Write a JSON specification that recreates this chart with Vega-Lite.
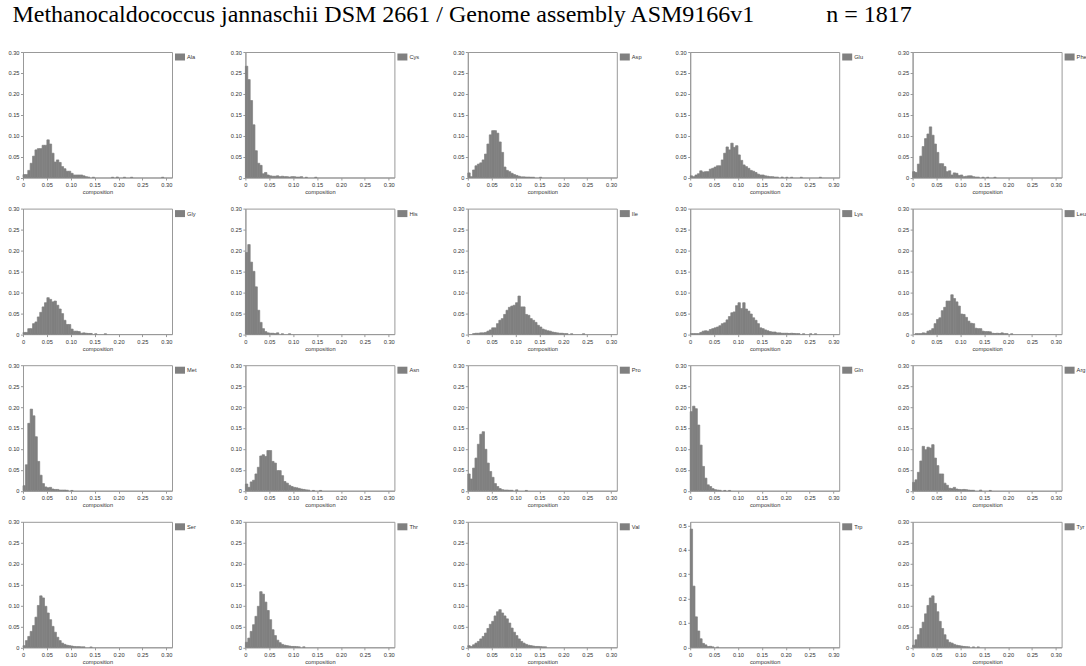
{
"$schema":"https://vega.github.io/schema/vega-lite/v6.json",
"background":"white",
"padding":{"left":7,"top":2,"right":2,"bottom":2},
"title":{"text":"Methanocaldococcus jannaschii DSM 2661 / Genome assembly ASM9166v1\u00a0\u00a0\u00a0\u00a0\u00a0\u00a0\u00a0\u00a0\u00a0\u00a0\u00a0\u00a0n = 1817","anchor":"start","font":"Liberation Serif","fontSize":24,"fontWeight":"normal","color":"#000","offset":22,"dx":5},
"data":{"values":[
{"a":"Ala","b":0,"e":0.005,"p":0.007},{"a":"Ala","b":0.005,"e":0.01,"p":0.007},{"a":"Ala","b":0.01,"e":0.015,"p":0.017},{"a":"Ala","b":0.015,"e":0.02,"p":0.034},{"a":"Ala","b":0.02,"e":0.025,"p":0.051},{"a":"Ala","b":0.025,"e":0.03,"p":0.066},{"a":"Ala","b":0.03,"e":0.035,"p":0.069},{"a":"Ala","b":0.035,"e":0.04,"p":0.069},{"a":"Ala","b":0.04,"e":0.045,"p":0.077},{"a":"Ala","b":0.045,"e":0.05,"p":0.077},{"a":"Ala","b":0.05,"e":0.055,"p":0.09},{"a":"Ala","b":0.055,"e":0.06,"p":0.08},{"a":"Ala","b":0.06,"e":0.065,"p":0.058},{"a":"Ala","b":0.065,"e":0.07,"p":0.037},{"a":"Ala","b":0.07,"e":0.075,"p":0.042},{"a":"Ala","b":0.075,"e":0.08,"p":0.036},{"a":"Ala","b":0.08,"e":0.085,"p":0.026},{"a":"Ala","b":0.085,"e":0.09,"p":0.021},{"a":"Ala","b":0.09,"e":0.095,"p":0.015},{"a":"Ala","b":0.095,"e":0.1,"p":0.015},{"a":"Ala","b":0.1,"e":0.105,"p":0.01},{"a":"Ala","b":0.105,"e":0.11,"p":0.006},{"a":"Ala","b":0.11,"e":0.115,"p":0.006},{"a":"Ala","b":0.115,"e":0.12,"p":0.006},{"a":"Ala","b":0.12,"e":0.125,"p":0.006},{"a":"Ala","b":0.125,"e":0.13,"p":0.004},{"a":"Ala","b":0.13,"e":0.135,"p":0.002},{"a":"Ala","b":0.135,"e":0.14,"p":0.001},{"a":"Ala","b":0.145,"e":0.15,"p":0.0006},{"a":"Ala","b":0.185,"e":0.19,"p":0.0006},{"a":"Ala","b":0.195,"e":0.2,"p":0.0011},{"a":"Ala","b":0.21,"e":0.215,"p":0.0006},{"a":"Ala","b":0.225,"e":0.23,"p":0.0006},{"a":"Ala","b":0.29,"e":0.295,"p":0.0006},
{"a":"Cys","b":0,"e":0.005,"p":0.266},{"a":"Cys","b":0.005,"e":0.01,"p":0.234},{"a":"Cys","b":0.01,"e":0.015,"p":0.184},{"a":"Cys","b":0.015,"e":0.02,"p":0.126},{"a":"Cys","b":0.02,"e":0.025,"p":0.064},{"a":"Cys","b":0.025,"e":0.03,"p":0.034},{"a":"Cys","b":0.03,"e":0.035,"p":0.029},{"a":"Cys","b":0.035,"e":0.04,"p":0.009},{"a":"Cys","b":0.04,"e":0.045,"p":0.012},{"a":"Cys","b":0.045,"e":0.05,"p":0.006},{"a":"Cys","b":0.05,"e":0.055,"p":0.004},{"a":"Cys","b":0.055,"e":0.06,"p":0.003},{"a":"Cys","b":0.06,"e":0.065,"p":0.003},{"a":"Cys","b":0.065,"e":0.07,"p":0.004},{"a":"Cys","b":0.07,"e":0.075,"p":0.002},{"a":"Cys","b":0.075,"e":0.08,"p":0.003},{"a":"Cys","b":0.08,"e":0.085,"p":0.002},{"a":"Cys","b":0.085,"e":0.09,"p":0.002},{"a":"Cys","b":0.09,"e":0.095,"p":0.001},{"a":"Cys","b":0.095,"e":0.1,"p":0.002},{"a":"Cys","b":0.1,"e":0.105,"p":0.002},{"a":"Cys","b":0.105,"e":0.11,"p":0.001},{"a":"Cys","b":0.11,"e":0.115,"p":0.001},{"a":"Cys","b":0.115,"e":0.12,"p":0.002},{"a":"Cys","b":0.125,"e":0.13,"p":0.0006},{"a":"Cys","b":0.145,"e":0.15,"p":0.0006},
{"a":"Asp","b":0,"e":0.005,"p":0.011},{"a":"Asp","b":0.005,"e":0.01,"p":0.002},{"a":"Asp","b":0.01,"e":0.015,"p":0.018},{"a":"Asp","b":0.015,"e":0.02,"p":0.028},{"a":"Asp","b":0.02,"e":0.025,"p":0.032},{"a":"Asp","b":0.025,"e":0.03,"p":0.035},{"a":"Asp","b":0.03,"e":0.035,"p":0.042},{"a":"Asp","b":0.035,"e":0.04,"p":0.056},{"a":"Asp","b":0.04,"e":0.045,"p":0.08},{"a":"Asp","b":0.045,"e":0.05,"p":0.102},{"a":"Asp","b":0.05,"e":0.055,"p":0.112},{"a":"Asp","b":0.055,"e":0.06,"p":0.112},{"a":"Asp","b":0.06,"e":0.065,"p":0.106},{"a":"Asp","b":0.065,"e":0.07,"p":0.085},{"a":"Asp","b":0.07,"e":0.075,"p":0.06},{"a":"Asp","b":0.075,"e":0.08,"p":0.025},{"a":"Asp","b":0.08,"e":0.085,"p":0.017},{"a":"Asp","b":0.085,"e":0.09,"p":0.014},{"a":"Asp","b":0.09,"e":0.095,"p":0.01},{"a":"Asp","b":0.095,"e":0.1,"p":0.007},{"a":"Asp","b":0.1,"e":0.105,"p":0.005},{"a":"Asp","b":0.105,"e":0.11,"p":0.003},{"a":"Asp","b":0.11,"e":0.115,"p":0.0015},{"a":"Asp","b":0.115,"e":0.12,"p":0.0015},{"a":"Asp","b":0.12,"e":0.125,"p":0.001},{"a":"Asp","b":0.125,"e":0.13,"p":0.001},{"a":"Asp","b":0.13,"e":0.135,"p":0.0006},{"a":"Asp","b":0.135,"e":0.14,"p":0.0006},{"a":"Asp","b":0.15,"e":0.155,"p":0.0006},
{"a":"Glu","b":0,"e":0.005,"p":0.004},{"a":"Glu","b":0.005,"e":0.01,"p":0.002},{"a":"Glu","b":0.01,"e":0.015,"p":0.006},{"a":"Glu","b":0.015,"e":0.02,"p":0.009},{"a":"Glu","b":0.02,"e":0.025,"p":0.016},{"a":"Glu","b":0.025,"e":0.03,"p":0.013},{"a":"Glu","b":0.03,"e":0.035,"p":0.014},{"a":"Glu","b":0.035,"e":0.04,"p":0.014},{"a":"Glu","b":0.04,"e":0.045,"p":0.02},{"a":"Glu","b":0.045,"e":0.05,"p":0.022},{"a":"Glu","b":0.05,"e":0.055,"p":0.025},{"a":"Glu","b":0.055,"e":0.06,"p":0.028},{"a":"Glu","b":0.06,"e":0.065,"p":0.028},{"a":"Glu","b":0.065,"e":0.07,"p":0.042},{"a":"Glu","b":0.07,"e":0.075,"p":0.058},{"a":"Glu","b":0.075,"e":0.08,"p":0.073},{"a":"Glu","b":0.08,"e":0.085,"p":0.066},{"a":"Glu","b":0.085,"e":0.09,"p":0.082},{"a":"Glu","b":0.09,"e":0.095,"p":0.072},{"a":"Glu","b":0.095,"e":0.1,"p":0.076},{"a":"Glu","b":0.1,"e":0.105,"p":0.054},{"a":"Glu","b":0.105,"e":0.11,"p":0.041},{"a":"Glu","b":0.11,"e":0.115,"p":0.03},{"a":"Glu","b":0.115,"e":0.12,"p":0.026},{"a":"Glu","b":0.12,"e":0.125,"p":0.022},{"a":"Glu","b":0.125,"e":0.13,"p":0.017},{"a":"Glu","b":0.13,"e":0.135,"p":0.015},{"a":"Glu","b":0.135,"e":0.14,"p":0.012},{"a":"Glu","b":0.14,"e":0.145,"p":0.008},{"a":"Glu","b":0.145,"e":0.15,"p":0.006},{"a":"Glu","b":0.15,"e":0.155,"p":0.006},{"a":"Glu","b":0.155,"e":0.16,"p":0.004},{"a":"Glu","b":0.16,"e":0.165,"p":0.003},{"a":"Glu","b":0.165,"e":0.17,"p":0.002},{"a":"Glu","b":0.17,"e":0.175,"p":0.002},{"a":"Glu","b":0.175,"e":0.18,"p":0.001},{"a":"Glu","b":0.18,"e":0.185,"p":0.001},{"a":"Glu","b":0.19,"e":0.195,"p":0.001},{"a":"Glu","b":0.2,"e":0.205,"p":0.0006},{"a":"Glu","b":0.21,"e":0.215,"p":0.0006},{"a":"Glu","b":0.23,"e":0.235,"p":0.0006},{"a":"Glu","b":0.27,"e":0.275,"p":0.0006},
{"a":"Phe","b":0,"e":0.005,"p":0.014},{"a":"Phe","b":0.005,"e":0.01,"p":0.012},{"a":"Phe","b":0.01,"e":0.015,"p":0.032},{"a":"Phe","b":0.015,"e":0.02,"p":0.051},{"a":"Phe","b":0.02,"e":0.025,"p":0.074},{"a":"Phe","b":0.025,"e":0.03,"p":0.093},{"a":"Phe","b":0.03,"e":0.035,"p":0.104},{"a":"Phe","b":0.035,"e":0.04,"p":0.121},{"a":"Phe","b":0.04,"e":0.045,"p":0.101},{"a":"Phe","b":0.045,"e":0.05,"p":0.08},{"a":"Phe","b":0.05,"e":0.055,"p":0.06},{"a":"Phe","b":0.055,"e":0.06,"p":0.033},{"a":"Phe","b":0.06,"e":0.065,"p":0.033},{"a":"Phe","b":0.065,"e":0.07,"p":0.026},{"a":"Phe","b":0.07,"e":0.075,"p":0.014},{"a":"Phe","b":0.075,"e":0.08,"p":0.016},{"a":"Phe","b":0.08,"e":0.085,"p":0.006},{"a":"Phe","b":0.085,"e":0.09,"p":0.011},{"a":"Phe","b":0.09,"e":0.095,"p":0.01},{"a":"Phe","b":0.095,"e":0.1,"p":0.005},{"a":"Phe","b":0.1,"e":0.105,"p":0.006},{"a":"Phe","b":0.105,"e":0.11,"p":0.002},{"a":"Phe","b":0.11,"e":0.115,"p":0.003},{"a":"Phe","b":0.115,"e":0.12,"p":0.004},{"a":"Phe","b":0.12,"e":0.125,"p":0.004},{"a":"Phe","b":0.125,"e":0.13,"p":0.002},{"a":"Phe","b":0.13,"e":0.135,"p":0.001},{"a":"Phe","b":0.135,"e":0.14,"p":0.001},{"a":"Phe","b":0.145,"e":0.15,"p":0.0006},{"a":"Phe","b":0.155,"e":0.16,"p":0.0006},{"a":"Phe","b":0.17,"e":0.175,"p":0.0006},
{"a":"Gly","b":0,"e":0.005,"p":0.004},{"a":"Gly","b":0.005,"e":0.01,"p":0.004},{"a":"Gly","b":0.01,"e":0.015,"p":0.013},{"a":"Gly","b":0.015,"e":0.02,"p":0.013},{"a":"Gly","b":0.02,"e":0.025,"p":0.025},{"a":"Gly","b":0.025,"e":0.03,"p":0.029},{"a":"Gly","b":0.03,"e":0.035,"p":0.041},{"a":"Gly","b":0.035,"e":0.04,"p":0.052},{"a":"Gly","b":0.04,"e":0.045,"p":0.065},{"a":"Gly","b":0.045,"e":0.05,"p":0.075},{"a":"Gly","b":0.05,"e":0.055,"p":0.087},{"a":"Gly","b":0.055,"e":0.06,"p":0.083},{"a":"Gly","b":0.06,"e":0.065,"p":0.077},{"a":"Gly","b":0.065,"e":0.07,"p":0.079},{"a":"Gly","b":0.07,"e":0.075,"p":0.069},{"a":"Gly","b":0.075,"e":0.08,"p":0.06},{"a":"Gly","b":0.08,"e":0.085,"p":0.049},{"a":"Gly","b":0.085,"e":0.09,"p":0.033},{"a":"Gly","b":0.09,"e":0.095,"p":0.023},{"a":"Gly","b":0.095,"e":0.1,"p":0.023},{"a":"Gly","b":0.1,"e":0.105,"p":0.012},{"a":"Gly","b":0.105,"e":0.11,"p":0.007},{"a":"Gly","b":0.11,"e":0.115,"p":0.007},{"a":"Gly","b":0.115,"e":0.12,"p":0.006},{"a":"Gly","b":0.12,"e":0.125,"p":0.002},{"a":"Gly","b":0.125,"e":0.13,"p":0.003},{"a":"Gly","b":0.13,"e":0.135,"p":0.002},{"a":"Gly","b":0.135,"e":0.14,"p":0.0015},{"a":"Gly","b":0.14,"e":0.145,"p":0.0015},{"a":"Gly","b":0.15,"e":0.155,"p":0.0006},{"a":"Gly","b":0.17,"e":0.175,"p":0.0006},
{"a":"His","b":0,"e":0.005,"p":0.195},{"a":"His","b":0.005,"e":0.01,"p":0.214},{"a":"His","b":0.01,"e":0.015,"p":0.172},{"a":"His","b":0.015,"e":0.02,"p":0.15},{"a":"His","b":0.02,"e":0.025,"p":0.113},{"a":"His","b":0.025,"e":0.03,"p":0.057},{"a":"His","b":0.03,"e":0.035,"p":0.028},{"a":"His","b":0.035,"e":0.04,"p":0.013},{"a":"His","b":0.04,"e":0.045,"p":0.006},{"a":"His","b":0.045,"e":0.05,"p":0.003},{"a":"His","b":0.05,"e":0.055,"p":0.002},{"a":"His","b":0.055,"e":0.06,"p":0.002},{"a":"His","b":0.06,"e":0.065,"p":0.001},{"a":"His","b":0.065,"e":0.07,"p":0.003},{"a":"His","b":0.075,"e":0.08,"p":0.0006},{"a":"His","b":0.09,"e":0.095,"p":0.0006},
{"a":"Ile","b":0.01,"e":0.015,"p":0.001},{"a":"Ile","b":0.015,"e":0.02,"p":0.002},{"a":"Ile","b":0.02,"e":0.025,"p":0.002},{"a":"Ile","b":0.025,"e":0.03,"p":0.003},{"a":"Ile","b":0.03,"e":0.035,"p":0.003},{"a":"Ile","b":0.035,"e":0.04,"p":0.004},{"a":"Ile","b":0.04,"e":0.045,"p":0.007},{"a":"Ile","b":0.045,"e":0.05,"p":0.01},{"a":"Ile","b":0.05,"e":0.055,"p":0.015},{"a":"Ile","b":0.055,"e":0.06,"p":0.015},{"a":"Ile","b":0.06,"e":0.065,"p":0.025},{"a":"Ile","b":0.065,"e":0.07,"p":0.033},{"a":"Ile","b":0.07,"e":0.075,"p":0.037},{"a":"Ile","b":0.075,"e":0.08,"p":0.047},{"a":"Ile","b":0.08,"e":0.085,"p":0.057},{"a":"Ile","b":0.085,"e":0.09,"p":0.064},{"a":"Ile","b":0.09,"e":0.095,"p":0.067},{"a":"Ile","b":0.095,"e":0.1,"p":0.069},{"a":"Ile","b":0.1,"e":0.105,"p":0.075},{"a":"Ile","b":0.105,"e":0.11,"p":0.091},{"a":"Ile","b":0.11,"e":0.115,"p":0.065},{"a":"Ile","b":0.115,"e":0.12,"p":0.065},{"a":"Ile","b":0.12,"e":0.125,"p":0.047},{"a":"Ile","b":0.125,"e":0.13,"p":0.045},{"a":"Ile","b":0.13,"e":0.135,"p":0.037},{"a":"Ile","b":0.135,"e":0.14,"p":0.033},{"a":"Ile","b":0.14,"e":0.145,"p":0.028},{"a":"Ile","b":0.145,"e":0.15,"p":0.021},{"a":"Ile","b":0.15,"e":0.155,"p":0.017},{"a":"Ile","b":0.155,"e":0.16,"p":0.012},{"a":"Ile","b":0.16,"e":0.165,"p":0.01},{"a":"Ile","b":0.165,"e":0.17,"p":0.008},{"a":"Ile","b":0.17,"e":0.175,"p":0.007},{"a":"Ile","b":0.175,"e":0.18,"p":0.005},{"a":"Ile","b":0.18,"e":0.185,"p":0.004},{"a":"Ile","b":0.185,"e":0.19,"p":0.003},{"a":"Ile","b":0.19,"e":0.195,"p":0.002},{"a":"Ile","b":0.195,"e":0.2,"p":0.002},{"a":"Ile","b":0.2,"e":0.205,"p":0.001},{"a":"Ile","b":0.205,"e":0.21,"p":0.001},{"a":"Ile","b":0.215,"e":0.22,"p":0.0006},{"a":"Ile","b":0.24,"e":0.245,"p":0.0006},
{"a":"Lys","b":0,"e":0.005,"p":0.001},{"a":"Lys","b":0.005,"e":0.01,"p":0.001},{"a":"Lys","b":0.01,"e":0.015,"p":0.001},{"a":"Lys","b":0.015,"e":0.02,"p":0.001},{"a":"Lys","b":0.02,"e":0.025,"p":0.004},{"a":"Lys","b":0.025,"e":0.03,"p":0.007},{"a":"Lys","b":0.03,"e":0.035,"p":0.008},{"a":"Lys","b":0.035,"e":0.04,"p":0.007},{"a":"Lys","b":0.04,"e":0.045,"p":0.011},{"a":"Lys","b":0.045,"e":0.05,"p":0.013},{"a":"Lys","b":0.05,"e":0.055,"p":0.015},{"a":"Lys","b":0.055,"e":0.06,"p":0.017},{"a":"Lys","b":0.06,"e":0.065,"p":0.02},{"a":"Lys","b":0.065,"e":0.07,"p":0.025},{"a":"Lys","b":0.07,"e":0.075,"p":0.027},{"a":"Lys","b":0.075,"e":0.08,"p":0.034},{"a":"Lys","b":0.08,"e":0.085,"p":0.042},{"a":"Lys","b":0.085,"e":0.09,"p":0.051},{"a":"Lys","b":0.09,"e":0.095,"p":0.053},{"a":"Lys","b":0.095,"e":0.1,"p":0.068},{"a":"Lys","b":0.1,"e":0.105,"p":0.075},{"a":"Lys","b":0.105,"e":0.11,"p":0.061},{"a":"Lys","b":0.11,"e":0.115,"p":0.075},{"a":"Lys","b":0.115,"e":0.12,"p":0.06},{"a":"Lys","b":0.12,"e":0.125,"p":0.055},{"a":"Lys","b":0.125,"e":0.13,"p":0.048},{"a":"Lys","b":0.13,"e":0.135,"p":0.039},{"a":"Lys","b":0.135,"e":0.14,"p":0.033},{"a":"Lys","b":0.14,"e":0.145,"p":0.025},{"a":"Lys","b":0.145,"e":0.15,"p":0.015},{"a":"Lys","b":0.15,"e":0.155,"p":0.013},{"a":"Lys","b":0.155,"e":0.16,"p":0.01},{"a":"Lys","b":0.16,"e":0.165,"p":0.008},{"a":"Lys","b":0.165,"e":0.17,"p":0.006},{"a":"Lys","b":0.17,"e":0.175,"p":0.005},{"a":"Lys","b":0.175,"e":0.18,"p":0.005},{"a":"Lys","b":0.18,"e":0.185,"p":0.003},{"a":"Lys","b":0.185,"e":0.19,"p":0.003},{"a":"Lys","b":0.19,"e":0.195,"p":0.002},{"a":"Lys","b":0.195,"e":0.2,"p":0.002},{"a":"Lys","b":0.2,"e":0.205,"p":0.002},{"a":"Lys","b":0.205,"e":0.21,"p":0.0015},{"a":"Lys","b":0.21,"e":0.215,"p":0.002},{"a":"Lys","b":0.215,"e":0.22,"p":0.0015},{"a":"Lys","b":0.22,"e":0.225,"p":0.001},{"a":"Lys","b":0.225,"e":0.23,"p":0.001},{"a":"Lys","b":0.235,"e":0.24,"p":0.0006},{"a":"Lys","b":0.25,"e":0.255,"p":0.0006},{"a":"Lys","b":0.26,"e":0.265,"p":0.0006},
{"a":"Leu","b":0.005,"e":0.01,"p":0.001},{"a":"Leu","b":0.01,"e":0.015,"p":0.001},{"a":"Leu","b":0.015,"e":0.02,"p":0.001},{"a":"Leu","b":0.02,"e":0.025,"p":0.003},{"a":"Leu","b":0.025,"e":0.03,"p":0.002},{"a":"Leu","b":0.03,"e":0.035,"p":0.007},{"a":"Leu","b":0.035,"e":0.04,"p":0.009},{"a":"Leu","b":0.04,"e":0.045,"p":0.013},{"a":"Leu","b":0.045,"e":0.05,"p":0.025},{"a":"Leu","b":0.05,"e":0.055,"p":0.035},{"a":"Leu","b":0.055,"e":0.06,"p":0.039},{"a":"Leu","b":0.06,"e":0.065,"p":0.056},{"a":"Leu","b":0.065,"e":0.07,"p":0.064},{"a":"Leu","b":0.07,"e":0.075,"p":0.079},{"a":"Leu","b":0.075,"e":0.08,"p":0.079},{"a":"Leu","b":0.08,"e":0.085,"p":0.094},{"a":"Leu","b":0.085,"e":0.09,"p":0.085},{"a":"Leu","b":0.09,"e":0.095,"p":0.077},{"a":"Leu","b":0.095,"e":0.1,"p":0.067},{"a":"Leu","b":0.1,"e":0.105,"p":0.048},{"a":"Leu","b":0.105,"e":0.11,"p":0.047},{"a":"Leu","b":0.11,"e":0.115,"p":0.04},{"a":"Leu","b":0.115,"e":0.12,"p":0.031},{"a":"Leu","b":0.12,"e":0.125,"p":0.026},{"a":"Leu","b":0.125,"e":0.13,"p":0.025},{"a":"Leu","b":0.13,"e":0.135,"p":0.014},{"a":"Leu","b":0.135,"e":0.14,"p":0.013},{"a":"Leu","b":0.14,"e":0.145,"p":0.013},{"a":"Leu","b":0.145,"e":0.15,"p":0.007},{"a":"Leu","b":0.15,"e":0.155,"p":0.006},{"a":"Leu","b":0.155,"e":0.16,"p":0.006},{"a":"Leu","b":0.16,"e":0.165,"p":0.0055},{"a":"Leu","b":0.165,"e":0.17,"p":0.002},{"a":"Leu","b":0.17,"e":0.175,"p":0.0015},{"a":"Leu","b":0.175,"e":0.18,"p":0.002},{"a":"Leu","b":0.18,"e":0.185,"p":0.0015},{"a":"Leu","b":0.185,"e":0.19,"p":0.003},{"a":"Leu","b":0.19,"e":0.195,"p":0.001},{"a":"Leu","b":0.195,"e":0.2,"p":0.001},{"a":"Leu","b":0.205,"e":0.21,"p":0.0006},
{"a":"Met","b":0,"e":0.005,"p":0.012},{"a":"Met","b":0.005,"e":0.01,"p":0.062},{"a":"Met","b":0.01,"e":0.015,"p":0.161},{"a":"Met","b":0.015,"e":0.02,"p":0.195},{"a":"Met","b":0.02,"e":0.025,"p":0.179},{"a":"Met","b":0.025,"e":0.03,"p":0.129},{"a":"Met","b":0.03,"e":0.035,"p":0.07},{"a":"Met","b":0.035,"e":0.04,"p":0.037},{"a":"Met","b":0.04,"e":0.045,"p":0.017},{"a":"Met","b":0.045,"e":0.05,"p":0.009},{"a":"Met","b":0.05,"e":0.055,"p":0.007},{"a":"Met","b":0.055,"e":0.06,"p":0.008},{"a":"Met","b":0.06,"e":0.065,"p":0.004},{"a":"Met","b":0.065,"e":0.07,"p":0.003},{"a":"Met","b":0.07,"e":0.075,"p":0.003},{"a":"Met","b":0.075,"e":0.08,"p":0.0015},{"a":"Met","b":0.08,"e":0.085,"p":0.0015},{"a":"Met","b":0.085,"e":0.09,"p":0.0015},{"a":"Met","b":0.09,"e":0.095,"p":0.001},{"a":"Met","b":0.1,"e":0.105,"p":0.0006},
{"a":"Asn","b":0,"e":0.005,"p":0.016},{"a":"Asn","b":0.005,"e":0.01,"p":0.008},{"a":"Asn","b":0.01,"e":0.015,"p":0.021},{"a":"Asn","b":0.015,"e":0.02,"p":0.025},{"a":"Asn","b":0.02,"e":0.025,"p":0.04},{"a":"Asn","b":0.025,"e":0.03,"p":0.056},{"a":"Asn","b":0.03,"e":0.035,"p":0.083},{"a":"Asn","b":0.035,"e":0.04,"p":0.086},{"a":"Asn","b":0.04,"e":0.045,"p":0.082},{"a":"Asn","b":0.045,"e":0.05,"p":0.096},{"a":"Asn","b":0.05,"e":0.055,"p":0.096},{"a":"Asn","b":0.055,"e":0.06,"p":0.07},{"a":"Asn","b":0.06,"e":0.065,"p":0.066},{"a":"Asn","b":0.065,"e":0.07,"p":0.048},{"a":"Asn","b":0.07,"e":0.075,"p":0.048},{"a":"Asn","b":0.075,"e":0.08,"p":0.036},{"a":"Asn","b":0.08,"e":0.085,"p":0.022},{"a":"Asn","b":0.085,"e":0.09,"p":0.018},{"a":"Asn","b":0.09,"e":0.095,"p":0.013},{"a":"Asn","b":0.095,"e":0.1,"p":0.01},{"a":"Asn","b":0.1,"e":0.105,"p":0.008},{"a":"Asn","b":0.105,"e":0.11,"p":0.007},{"a":"Asn","b":0.11,"e":0.115,"p":0.0055},{"a":"Asn","b":0.115,"e":0.12,"p":0.004},{"a":"Asn","b":0.12,"e":0.125,"p":0.003},{"a":"Asn","b":0.125,"e":0.13,"p":0.002},{"a":"Asn","b":0.13,"e":0.135,"p":0.0015},{"a":"Asn","b":0.14,"e":0.145,"p":0.0006},{"a":"Asn","b":0.155,"e":0.16,"p":0.0006},
{"a":"Pro","b":0,"e":0.005,"p":0.04},{"a":"Pro","b":0.005,"e":0.01,"p":0.028},{"a":"Pro","b":0.01,"e":0.015,"p":0.054},{"a":"Pro","b":0.015,"e":0.02,"p":0.078},{"a":"Pro","b":0.02,"e":0.025,"p":0.111},{"a":"Pro","b":0.025,"e":0.03,"p":0.135},{"a":"Pro","b":0.03,"e":0.035,"p":0.141},{"a":"Pro","b":0.035,"e":0.04,"p":0.099},{"a":"Pro","b":0.04,"e":0.045,"p":0.066},{"a":"Pro","b":0.045,"e":0.05,"p":0.046},{"a":"Pro","b":0.05,"e":0.055,"p":0.032},{"a":"Pro","b":0.055,"e":0.06,"p":0.017},{"a":"Pro","b":0.06,"e":0.065,"p":0.01},{"a":"Pro","b":0.065,"e":0.07,"p":0.005},{"a":"Pro","b":0.07,"e":0.075,"p":0.0025},{"a":"Pro","b":0.075,"e":0.08,"p":0.0015},{"a":"Pro","b":0.08,"e":0.085,"p":0.0015},{"a":"Pro","b":0.085,"e":0.09,"p":0.001},{"a":"Pro","b":0.09,"e":0.095,"p":0.001},{"a":"Pro","b":0.1,"e":0.105,"p":0.002},{"a":"Pro","b":0.12,"e":0.125,"p":0.0006},
{"a":"Gln","b":0,"e":0.005,"p":0.189},{"a":"Gln","b":0.005,"e":0.01,"p":0.202},{"a":"Gln","b":0.01,"e":0.015,"p":0.196},{"a":"Gln","b":0.015,"e":0.02,"p":0.157},{"a":"Gln","b":0.02,"e":0.025,"p":0.109},{"a":"Gln","b":0.025,"e":0.03,"p":0.058},{"a":"Gln","b":0.03,"e":0.035,"p":0.03},{"a":"Gln","b":0.035,"e":0.04,"p":0.014},{"a":"Gln","b":0.04,"e":0.045,"p":0.01},{"a":"Gln","b":0.045,"e":0.05,"p":0.005},{"a":"Gln","b":0.05,"e":0.055,"p":0.0025},{"a":"Gln","b":0.055,"e":0.06,"p":0.0015},{"a":"Gln","b":0.06,"e":0.065,"p":0.001},{"a":"Gln","b":0.07,"e":0.075,"p":0.0006},{"a":"Gln","b":0.08,"e":0.085,"p":0.0006},
{"a":"Arg","b":0,"e":0.005,"p":0.02},{"a":"Arg","b":0.005,"e":0.01,"p":0.026},{"a":"Arg","b":0.01,"e":0.015,"p":0.044},{"a":"Arg","b":0.015,"e":0.02,"p":0.071},{"a":"Arg","b":0.02,"e":0.025,"p":0.106},{"a":"Arg","b":0.025,"e":0.03,"p":0.098},{"a":"Arg","b":0.03,"e":0.035,"p":0.104},{"a":"Arg","b":0.035,"e":0.04,"p":0.102},{"a":"Arg","b":0.04,"e":0.045,"p":0.11},{"a":"Arg","b":0.045,"e":0.05,"p":0.078},{"a":"Arg","b":0.05,"e":0.055,"p":0.06},{"a":"Arg","b":0.055,"e":0.06,"p":0.04},{"a":"Arg","b":0.06,"e":0.065,"p":0.04},{"a":"Arg","b":0.065,"e":0.07,"p":0.018},{"a":"Arg","b":0.07,"e":0.075,"p":0.013},{"a":"Arg","b":0.075,"e":0.08,"p":0.006},{"a":"Arg","b":0.08,"e":0.085,"p":0.005},{"a":"Arg","b":0.085,"e":0.09,"p":0.008},{"a":"Arg","b":0.09,"e":0.095,"p":0.004},{"a":"Arg","b":0.095,"e":0.1,"p":0.003},{"a":"Arg","b":0.1,"e":0.105,"p":0.0025},{"a":"Arg","b":0.105,"e":0.11,"p":0.003},{"a":"Arg","b":0.11,"e":0.115,"p":0.0025},{"a":"Arg","b":0.115,"e":0.12,"p":0.0015},{"a":"Arg","b":0.12,"e":0.125,"p":0.001},{"a":"Arg","b":0.125,"e":0.13,"p":0.001},{"a":"Arg","b":0.14,"e":0.145,"p":0.0015},{"a":"Arg","b":0.16,"e":0.165,"p":0.0006},
{"a":"Ser","b":0,"e":0.005,"p":0.004},{"a":"Ser","b":0.005,"e":0.01,"p":0.016},{"a":"Ser","b":0.01,"e":0.015,"p":0.026},{"a":"Ser","b":0.015,"e":0.02,"p":0.038},{"a":"Ser","b":0.02,"e":0.025,"p":0.052},{"a":"Ser","b":0.025,"e":0.03,"p":0.072},{"a":"Ser","b":0.03,"e":0.035,"p":0.1},{"a":"Ser","b":0.035,"e":0.04,"p":0.123},{"a":"Ser","b":0.04,"e":0.045,"p":0.118},{"a":"Ser","b":0.045,"e":0.05,"p":0.098},{"a":"Ser","b":0.05,"e":0.055,"p":0.082},{"a":"Ser","b":0.055,"e":0.06,"p":0.066},{"a":"Ser","b":0.06,"e":0.065,"p":0.05},{"a":"Ser","b":0.065,"e":0.07,"p":0.036},{"a":"Ser","b":0.07,"e":0.075,"p":0.024},{"a":"Ser","b":0.075,"e":0.08,"p":0.016},{"a":"Ser","b":0.08,"e":0.085,"p":0.01},{"a":"Ser","b":0.085,"e":0.09,"p":0.007},{"a":"Ser","b":0.09,"e":0.095,"p":0.005},{"a":"Ser","b":0.095,"e":0.1,"p":0.004},{"a":"Ser","b":0.1,"e":0.105,"p":0.003},{"a":"Ser","b":0.105,"e":0.11,"p":0.002},{"a":"Ser","b":0.11,"e":0.115,"p":0.0015},{"a":"Ser","b":0.115,"e":0.12,"p":0.0015},{"a":"Ser","b":0.12,"e":0.125,"p":0.001},{"a":"Ser","b":0.125,"e":0.13,"p":0.001},{"a":"Ser","b":0.14,"e":0.145,"p":0.0006},
{"a":"Thr","b":0,"e":0.005,"p":0.012},{"a":"Thr","b":0.005,"e":0.01,"p":0.022},{"a":"Thr","b":0.01,"e":0.015,"p":0.038},{"a":"Thr","b":0.015,"e":0.02,"p":0.054},{"a":"Thr","b":0.02,"e":0.025,"p":0.074},{"a":"Thr","b":0.025,"e":0.03,"p":0.098},{"a":"Thr","b":0.03,"e":0.035,"p":0.133},{"a":"Thr","b":0.035,"e":0.04,"p":0.127},{"a":"Thr","b":0.04,"e":0.045,"p":0.108},{"a":"Thr","b":0.045,"e":0.05,"p":0.088},{"a":"Thr","b":0.05,"e":0.055,"p":0.066},{"a":"Thr","b":0.055,"e":0.06,"p":0.042},{"a":"Thr","b":0.06,"e":0.065,"p":0.028},{"a":"Thr","b":0.065,"e":0.07,"p":0.017},{"a":"Thr","b":0.07,"e":0.075,"p":0.011},{"a":"Thr","b":0.075,"e":0.08,"p":0.007},{"a":"Thr","b":0.08,"e":0.085,"p":0.005},{"a":"Thr","b":0.085,"e":0.09,"p":0.004},{"a":"Thr","b":0.09,"e":0.095,"p":0.003},{"a":"Thr","b":0.095,"e":0.1,"p":0.002},{"a":"Thr","b":0.1,"e":0.105,"p":0.002},{"a":"Thr","b":0.105,"e":0.11,"p":0.0015},{"a":"Thr","b":0.11,"e":0.115,"p":0.001},{"a":"Thr","b":0.12,"e":0.125,"p":0.001},
{"a":"Val","b":0,"e":0.005,"p":0.004},{"a":"Val","b":0.005,"e":0.01,"p":0.002},{"a":"Val","b":0.01,"e":0.015,"p":0.006},{"a":"Val","b":0.015,"e":0.02,"p":0.01},{"a":"Val","b":0.02,"e":0.025,"p":0.014},{"a":"Val","b":0.025,"e":0.03,"p":0.02},{"a":"Val","b":0.03,"e":0.035,"p":0.026},{"a":"Val","b":0.035,"e":0.04,"p":0.034},{"a":"Val","b":0.04,"e":0.045,"p":0.045},{"a":"Val","b":0.045,"e":0.05,"p":0.055},{"a":"Val","b":0.05,"e":0.055,"p":0.062},{"a":"Val","b":0.055,"e":0.06,"p":0.075},{"a":"Val","b":0.06,"e":0.065,"p":0.085},{"a":"Val","b":0.065,"e":0.07,"p":0.09},{"a":"Val","b":0.07,"e":0.075,"p":0.082},{"a":"Val","b":0.075,"e":0.08,"p":0.075},{"a":"Val","b":0.08,"e":0.085,"p":0.068},{"a":"Val","b":0.085,"e":0.09,"p":0.058},{"a":"Val","b":0.09,"e":0.095,"p":0.046},{"a":"Val","b":0.095,"e":0.1,"p":0.036},{"a":"Val","b":0.1,"e":0.105,"p":0.028},{"a":"Val","b":0.105,"e":0.11,"p":0.02},{"a":"Val","b":0.11,"e":0.115,"p":0.014},{"a":"Val","b":0.115,"e":0.12,"p":0.01},{"a":"Val","b":0.12,"e":0.125,"p":0.007},{"a":"Val","b":0.125,"e":0.13,"p":0.005},{"a":"Val","b":0.13,"e":0.135,"p":0.004},{"a":"Val","b":0.135,"e":0.14,"p":0.003},{"a":"Val","b":0.14,"e":0.145,"p":0.002},{"a":"Val","b":0.145,"e":0.15,"p":0.002},{"a":"Val","b":0.15,"e":0.155,"p":0.0015},{"a":"Val","b":0.155,"e":0.16,"p":0.001},{"a":"Val","b":0.16,"e":0.165,"p":0.001},
{"a":"Trp","b":0,"e":0.005,"p":0.485},{"a":"Trp","b":0.005,"e":0.01,"p":0.251},{"a":"Trp","b":0.01,"e":0.015,"p":0.125},{"a":"Trp","b":0.015,"e":0.02,"p":0.067},{"a":"Trp","b":0.02,"e":0.025,"p":0.035},{"a":"Trp","b":0.025,"e":0.03,"p":0.016},{"a":"Trp","b":0.03,"e":0.035,"p":0.01},{"a":"Trp","b":0.035,"e":0.04,"p":0.003},{"a":"Trp","b":0.04,"e":0.045,"p":0.004},{"a":"Trp","b":0.045,"e":0.05,"p":0.0015},{"a":"Trp","b":0.055,"e":0.06,"p":0.0006},
{"a":"Tyr","b":0,"e":0.005,"p":0.005},{"a":"Tyr","b":0.005,"e":0.01,"p":0.018},{"a":"Tyr","b":0.01,"e":0.015,"p":0.03},{"a":"Tyr","b":0.015,"e":0.02,"p":0.045},{"a":"Tyr","b":0.02,"e":0.025,"p":0.06},{"a":"Tyr","b":0.025,"e":0.03,"p":0.08},{"a":"Tyr","b":0.03,"e":0.035,"p":0.1},{"a":"Tyr","b":0.035,"e":0.04,"p":0.118},{"a":"Tyr","b":0.04,"e":0.045,"p":0.123},{"a":"Tyr","b":0.045,"e":0.05,"p":0.105},{"a":"Tyr","b":0.05,"e":0.055,"p":0.085},{"a":"Tyr","b":0.055,"e":0.06,"p":0.062},{"a":"Tyr","b":0.06,"e":0.065,"p":0.045},{"a":"Tyr","b":0.065,"e":0.07,"p":0.03},{"a":"Tyr","b":0.07,"e":0.075,"p":0.018},{"a":"Tyr","b":0.075,"e":0.08,"p":0.012},{"a":"Tyr","b":0.08,"e":0.085,"p":0.01},{"a":"Tyr","b":0.085,"e":0.09,"p":0.007},{"a":"Tyr","b":0.09,"e":0.095,"p":0.005},{"a":"Tyr","b":0.095,"e":0.1,"p":0.004},{"a":"Tyr","b":0.1,"e":0.105,"p":0.003},{"a":"Tyr","b":0.105,"e":0.11,"p":0.002},{"a":"Tyr","b":0.11,"e":0.115,"p":0.0015},{"a":"Tyr","b":0.115,"e":0.12,"p":0.001},{"a":"Tyr","b":0.125,"e":0.13,"p":0.0008},{"a":"Tyr","b":0.135,"e":0.14,"p":0.0008}
]},
"columns":5,
"spacing":{"row":30.6,"column":73.4},
"bounds":"flush",
"resolve":{"scale":{"x":"independent","y":"independent","color":"independent"},"axis":{"x":"independent","y":"independent"},"legend":{"color":"independent"}},
"concat":[
{"width":149,"height":125.5,"transform":[{"filter":"datum.a=='Ala'"}],"mark":{"type":"bar","stroke":"#808080","strokeWidth":0.7},"encoding":{"x":{"field":"b","type":"quantitative","scale":{"domain":[0,0.312],"nice":false},"axis":{"values":[0,0.05,0.1,0.15,0.2,0.25,0.3],"title":"composition","labelExpr":"datum.value==0?'0':format(datum.value,'.2f')"}},"x2":{"field":"e"},"y":{"field":"p","type":"quantitative","scale":{"domain":[0,0.3],"nice":false},"axis":{"values":[0,0.05,0.1,0.15,0.2,0.25,0.3],"title":null,"labelExpr":"datum.value==0?'0':format(datum.value,'.2f')"}},"y2":{"datum":0},"color":{"field":"a","type":"nominal","scale":{"range":["#808080"]},"legend":{"title":null,"symbolType":"M-1,-0.7H1V0.7H-1Z","symbolSize":100}}}},
{"width":149,"height":125.5,"transform":[{"filter":"datum.a=='Cys'"}],"mark":{"type":"bar","stroke":"#808080","strokeWidth":0.7},"encoding":{"x":{"field":"b","type":"quantitative","scale":{"domain":[0,0.312],"nice":false},"axis":{"values":[0,0.05,0.1,0.15,0.2,0.25,0.3],"title":"composition","labelExpr":"datum.value==0?'0':format(datum.value,'.2f')"}},"x2":{"field":"e"},"y":{"field":"p","type":"quantitative","scale":{"domain":[0,0.3],"nice":false},"axis":{"values":[0,0.05,0.1,0.15,0.2,0.25,0.3],"title":null,"labelExpr":"datum.value==0?'0':format(datum.value,'.2f')"}},"y2":{"datum":0},"color":{"field":"a","type":"nominal","scale":{"range":["#808080"]},"legend":{"title":null,"symbolType":"M-1,-0.7H1V0.7H-1Z","symbolSize":100}}}},
{"width":149,"height":125.5,"transform":[{"filter":"datum.a=='Asp'"}],"mark":{"type":"bar","stroke":"#808080","strokeWidth":0.7},"encoding":{"x":{"field":"b","type":"quantitative","scale":{"domain":[0,0.312],"nice":false},"axis":{"values":[0,0.05,0.1,0.15,0.2,0.25,0.3],"title":"composition","labelExpr":"datum.value==0?'0':format(datum.value,'.2f')"}},"x2":{"field":"e"},"y":{"field":"p","type":"quantitative","scale":{"domain":[0,0.3],"nice":false},"axis":{"values":[0,0.05,0.1,0.15,0.2,0.25,0.3],"title":null,"labelExpr":"datum.value==0?'0':format(datum.value,'.2f')"}},"y2":{"datum":0},"color":{"field":"a","type":"nominal","scale":{"range":["#808080"]},"legend":{"title":null,"symbolType":"M-1,-0.7H1V0.7H-1Z","symbolSize":100}}}},
{"width":149,"height":125.5,"transform":[{"filter":"datum.a=='Glu'"}],"mark":{"type":"bar","stroke":"#808080","strokeWidth":0.7},"encoding":{"x":{"field":"b","type":"quantitative","scale":{"domain":[0,0.312],"nice":false},"axis":{"values":[0,0.05,0.1,0.15,0.2,0.25,0.3],"title":"composition","labelExpr":"datum.value==0?'0':format(datum.value,'.2f')"}},"x2":{"field":"e"},"y":{"field":"p","type":"quantitative","scale":{"domain":[0,0.3],"nice":false},"axis":{"values":[0,0.05,0.1,0.15,0.2,0.25,0.3],"title":null,"labelExpr":"datum.value==0?'0':format(datum.value,'.2f')"}},"y2":{"datum":0},"color":{"field":"a","type":"nominal","scale":{"range":["#808080"]},"legend":{"title":null,"symbolType":"M-1,-0.7H1V0.7H-1Z","symbolSize":100}}}},
{"width":149,"height":125.5,"transform":[{"filter":"datum.a=='Phe'"}],"mark":{"type":"bar","stroke":"#808080","strokeWidth":0.7},"encoding":{"x":{"field":"b","type":"quantitative","scale":{"domain":[0,0.312],"nice":false},"axis":{"values":[0,0.05,0.1,0.15,0.2,0.25,0.3],"title":"composition","labelExpr":"datum.value==0?'0':format(datum.value,'.2f')"}},"x2":{"field":"e"},"y":{"field":"p","type":"quantitative","scale":{"domain":[0,0.3],"nice":false},"axis":{"values":[0,0.05,0.1,0.15,0.2,0.25,0.3],"title":null,"labelExpr":"datum.value==0?'0':format(datum.value,'.2f')"}},"y2":{"datum":0},"color":{"field":"a","type":"nominal","scale":{"range":["#808080"]},"legend":{"title":null,"symbolType":"M-1,-0.7H1V0.7H-1Z","symbolSize":100}}}},
{"width":149,"height":125.5,"transform":[{"filter":"datum.a=='Gly'"}],"mark":{"type":"bar","stroke":"#808080","strokeWidth":0.7},"encoding":{"x":{"field":"b","type":"quantitative","scale":{"domain":[0,0.312],"nice":false},"axis":{"values":[0,0.05,0.1,0.15,0.2,0.25,0.3],"title":"composition","labelExpr":"datum.value==0?'0':format(datum.value,'.2f')"}},"x2":{"field":"e"},"y":{"field":"p","type":"quantitative","scale":{"domain":[0,0.3],"nice":false},"axis":{"values":[0,0.05,0.1,0.15,0.2,0.25,0.3],"title":null,"labelExpr":"datum.value==0?'0':format(datum.value,'.2f')"}},"y2":{"datum":0},"color":{"field":"a","type":"nominal","scale":{"range":["#808080"]},"legend":{"title":null,"symbolType":"M-1,-0.7H1V0.7H-1Z","symbolSize":100}}}},
{"width":149,"height":125.5,"transform":[{"filter":"datum.a=='His'"}],"mark":{"type":"bar","stroke":"#808080","strokeWidth":0.7},"encoding":{"x":{"field":"b","type":"quantitative","scale":{"domain":[0,0.312],"nice":false},"axis":{"values":[0,0.05,0.1,0.15,0.2,0.25,0.3],"title":"composition","labelExpr":"datum.value==0?'0':format(datum.value,'.2f')"}},"x2":{"field":"e"},"y":{"field":"p","type":"quantitative","scale":{"domain":[0,0.3],"nice":false},"axis":{"values":[0,0.05,0.1,0.15,0.2,0.25,0.3],"title":null,"labelExpr":"datum.value==0?'0':format(datum.value,'.2f')"}},"y2":{"datum":0},"color":{"field":"a","type":"nominal","scale":{"range":["#808080"]},"legend":{"title":null,"symbolType":"M-1,-0.7H1V0.7H-1Z","symbolSize":100}}}},
{"width":149,"height":125.5,"transform":[{"filter":"datum.a=='Ile'"}],"mark":{"type":"bar","stroke":"#808080","strokeWidth":0.7},"encoding":{"x":{"field":"b","type":"quantitative","scale":{"domain":[0,0.312],"nice":false},"axis":{"values":[0,0.05,0.1,0.15,0.2,0.25,0.3],"title":"composition","labelExpr":"datum.value==0?'0':format(datum.value,'.2f')"}},"x2":{"field":"e"},"y":{"field":"p","type":"quantitative","scale":{"domain":[0,0.3],"nice":false},"axis":{"values":[0,0.05,0.1,0.15,0.2,0.25,0.3],"title":null,"labelExpr":"datum.value==0?'0':format(datum.value,'.2f')"}},"y2":{"datum":0},"color":{"field":"a","type":"nominal","scale":{"range":["#808080"]},"legend":{"title":null,"symbolType":"M-1,-0.7H1V0.7H-1Z","symbolSize":100}}}},
{"width":149,"height":125.5,"transform":[{"filter":"datum.a=='Lys'"}],"mark":{"type":"bar","stroke":"#808080","strokeWidth":0.7},"encoding":{"x":{"field":"b","type":"quantitative","scale":{"domain":[0,0.312],"nice":false},"axis":{"values":[0,0.05,0.1,0.15,0.2,0.25,0.3],"title":"composition","labelExpr":"datum.value==0?'0':format(datum.value,'.2f')"}},"x2":{"field":"e"},"y":{"field":"p","type":"quantitative","scale":{"domain":[0,0.3],"nice":false},"axis":{"values":[0,0.05,0.1,0.15,0.2,0.25,0.3],"title":null,"labelExpr":"datum.value==0?'0':format(datum.value,'.2f')"}},"y2":{"datum":0},"color":{"field":"a","type":"nominal","scale":{"range":["#808080"]},"legend":{"title":null,"symbolType":"M-1,-0.7H1V0.7H-1Z","symbolSize":100}}}},
{"width":149,"height":125.5,"transform":[{"filter":"datum.a=='Leu'"}],"mark":{"type":"bar","stroke":"#808080","strokeWidth":0.7},"encoding":{"x":{"field":"b","type":"quantitative","scale":{"domain":[0,0.312],"nice":false},"axis":{"values":[0,0.05,0.1,0.15,0.2,0.25,0.3],"title":"composition","labelExpr":"datum.value==0?'0':format(datum.value,'.2f')"}},"x2":{"field":"e"},"y":{"field":"p","type":"quantitative","scale":{"domain":[0,0.3],"nice":false},"axis":{"values":[0,0.05,0.1,0.15,0.2,0.25,0.3],"title":null,"labelExpr":"datum.value==0?'0':format(datum.value,'.2f')"}},"y2":{"datum":0},"color":{"field":"a","type":"nominal","scale":{"range":["#808080"]},"legend":{"title":null,"symbolType":"M-1,-0.7H1V0.7H-1Z","symbolSize":100}}}},
{"width":149,"height":125.5,"transform":[{"filter":"datum.a=='Met'"}],"mark":{"type":"bar","stroke":"#808080","strokeWidth":0.7},"encoding":{"x":{"field":"b","type":"quantitative","scale":{"domain":[0,0.312],"nice":false},"axis":{"values":[0,0.05,0.1,0.15,0.2,0.25,0.3],"title":"composition","labelExpr":"datum.value==0?'0':format(datum.value,'.2f')"}},"x2":{"field":"e"},"y":{"field":"p","type":"quantitative","scale":{"domain":[0,0.3],"nice":false},"axis":{"values":[0,0.05,0.1,0.15,0.2,0.25,0.3],"title":null,"labelExpr":"datum.value==0?'0':format(datum.value,'.2f')"}},"y2":{"datum":0},"color":{"field":"a","type":"nominal","scale":{"range":["#808080"]},"legend":{"title":null,"symbolType":"M-1,-0.7H1V0.7H-1Z","symbolSize":100}}}},
{"width":149,"height":125.5,"transform":[{"filter":"datum.a=='Asn'"}],"mark":{"type":"bar","stroke":"#808080","strokeWidth":0.7},"encoding":{"x":{"field":"b","type":"quantitative","scale":{"domain":[0,0.312],"nice":false},"axis":{"values":[0,0.05,0.1,0.15,0.2,0.25,0.3],"title":"composition","labelExpr":"datum.value==0?'0':format(datum.value,'.2f')"}},"x2":{"field":"e"},"y":{"field":"p","type":"quantitative","scale":{"domain":[0,0.3],"nice":false},"axis":{"values":[0,0.05,0.1,0.15,0.2,0.25,0.3],"title":null,"labelExpr":"datum.value==0?'0':format(datum.value,'.2f')"}},"y2":{"datum":0},"color":{"field":"a","type":"nominal","scale":{"range":["#808080"]},"legend":{"title":null,"symbolType":"M-1,-0.7H1V0.7H-1Z","symbolSize":100}}}},
{"width":149,"height":125.5,"transform":[{"filter":"datum.a=='Pro'"}],"mark":{"type":"bar","stroke":"#808080","strokeWidth":0.7},"encoding":{"x":{"field":"b","type":"quantitative","scale":{"domain":[0,0.312],"nice":false},"axis":{"values":[0,0.05,0.1,0.15,0.2,0.25,0.3],"title":"composition","labelExpr":"datum.value==0?'0':format(datum.value,'.2f')"}},"x2":{"field":"e"},"y":{"field":"p","type":"quantitative","scale":{"domain":[0,0.3],"nice":false},"axis":{"values":[0,0.05,0.1,0.15,0.2,0.25,0.3],"title":null,"labelExpr":"datum.value==0?'0':format(datum.value,'.2f')"}},"y2":{"datum":0},"color":{"field":"a","type":"nominal","scale":{"range":["#808080"]},"legend":{"title":null,"symbolType":"M-1,-0.7H1V0.7H-1Z","symbolSize":100}}}},
{"width":149,"height":125.5,"transform":[{"filter":"datum.a=='Gln'"}],"mark":{"type":"bar","stroke":"#808080","strokeWidth":0.7},"encoding":{"x":{"field":"b","type":"quantitative","scale":{"domain":[0,0.312],"nice":false},"axis":{"values":[0,0.05,0.1,0.15,0.2,0.25,0.3],"title":"composition","labelExpr":"datum.value==0?'0':format(datum.value,'.2f')"}},"x2":{"field":"e"},"y":{"field":"p","type":"quantitative","scale":{"domain":[0,0.3],"nice":false},"axis":{"values":[0,0.05,0.1,0.15,0.2,0.25,0.3],"title":null,"labelExpr":"datum.value==0?'0':format(datum.value,'.2f')"}},"y2":{"datum":0},"color":{"field":"a","type":"nominal","scale":{"range":["#808080"]},"legend":{"title":null,"symbolType":"M-1,-0.7H1V0.7H-1Z","symbolSize":100}}}},
{"width":149,"height":125.5,"transform":[{"filter":"datum.a=='Arg'"}],"mark":{"type":"bar","stroke":"#808080","strokeWidth":0.7},"encoding":{"x":{"field":"b","type":"quantitative","scale":{"domain":[0,0.312],"nice":false},"axis":{"values":[0,0.05,0.1,0.15,0.2,0.25,0.3],"title":"composition","labelExpr":"datum.value==0?'0':format(datum.value,'.2f')"}},"x2":{"field":"e"},"y":{"field":"p","type":"quantitative","scale":{"domain":[0,0.3],"nice":false},"axis":{"values":[0,0.05,0.1,0.15,0.2,0.25,0.3],"title":null,"labelExpr":"datum.value==0?'0':format(datum.value,'.2f')"}},"y2":{"datum":0},"color":{"field":"a","type":"nominal","scale":{"range":["#808080"]},"legend":{"title":null,"symbolType":"M-1,-0.7H1V0.7H-1Z","symbolSize":100}}}},
{"width":149,"height":125.5,"transform":[{"filter":"datum.a=='Ser'"}],"mark":{"type":"bar","stroke":"#808080","strokeWidth":0.7},"encoding":{"x":{"field":"b","type":"quantitative","scale":{"domain":[0,0.312],"nice":false},"axis":{"values":[0,0.05,0.1,0.15,0.2,0.25,0.3],"title":"composition","labelExpr":"datum.value==0?'0':format(datum.value,'.2f')"}},"x2":{"field":"e"},"y":{"field":"p","type":"quantitative","scale":{"domain":[0,0.3],"nice":false},"axis":{"values":[0,0.05,0.1,0.15,0.2,0.25,0.3],"title":null,"labelExpr":"datum.value==0?'0':format(datum.value,'.2f')"}},"y2":{"datum":0},"color":{"field":"a","type":"nominal","scale":{"range":["#808080"]},"legend":{"title":null,"symbolType":"M-1,-0.7H1V0.7H-1Z","symbolSize":100}}}},
{"width":149,"height":125.5,"transform":[{"filter":"datum.a=='Thr'"}],"mark":{"type":"bar","stroke":"#808080","strokeWidth":0.7},"encoding":{"x":{"field":"b","type":"quantitative","scale":{"domain":[0,0.312],"nice":false},"axis":{"values":[0,0.05,0.1,0.15,0.2,0.25,0.3],"title":"composition","labelExpr":"datum.value==0?'0':format(datum.value,'.2f')"}},"x2":{"field":"e"},"y":{"field":"p","type":"quantitative","scale":{"domain":[0,0.3],"nice":false},"axis":{"values":[0,0.05,0.1,0.15,0.2,0.25,0.3],"title":null,"labelExpr":"datum.value==0?'0':format(datum.value,'.2f')"}},"y2":{"datum":0},"color":{"field":"a","type":"nominal","scale":{"range":["#808080"]},"legend":{"title":null,"symbolType":"M-1,-0.7H1V0.7H-1Z","symbolSize":100}}}},
{"width":149,"height":125.5,"transform":[{"filter":"datum.a=='Val'"}],"mark":{"type":"bar","stroke":"#808080","strokeWidth":0.7},"encoding":{"x":{"field":"b","type":"quantitative","scale":{"domain":[0,0.312],"nice":false},"axis":{"values":[0,0.05,0.1,0.15,0.2,0.25,0.3],"title":"composition","labelExpr":"datum.value==0?'0':format(datum.value,'.2f')"}},"x2":{"field":"e"},"y":{"field":"p","type":"quantitative","scale":{"domain":[0,0.3],"nice":false},"axis":{"values":[0,0.05,0.1,0.15,0.2,0.25,0.3],"title":null,"labelExpr":"datum.value==0?'0':format(datum.value,'.2f')"}},"y2":{"datum":0},"color":{"field":"a","type":"nominal","scale":{"range":["#808080"]},"legend":{"title":null,"symbolType":"M-1,-0.7H1V0.7H-1Z","symbolSize":100}}}},
{"width":149,"height":125.5,"transform":[{"filter":"datum.a=='Trp'"}],"mark":{"type":"bar","stroke":"#808080","strokeWidth":0.7},"encoding":{"x":{"field":"b","type":"quantitative","scale":{"domain":[0,0.312],"nice":false},"axis":{"values":[0,0.05,0.1,0.15,0.2,0.25,0.3],"title":"composition","labelExpr":"datum.value==0?'0':format(datum.value,'.2f')"}},"x2":{"field":"e"},"y":{"field":"p","type":"quantitative","scale":{"domain":[0,0.515],"nice":false},"axis":{"values":[0,0.1,0.2,0.3,0.4,0.5],"title":null,"labelExpr":"datum.value==0?'0':format(datum.value,'.1f')"}},"y2":{"datum":0},"color":{"field":"a","type":"nominal","scale":{"range":["#808080"]},"legend":{"title":null,"symbolType":"M-1,-0.7H1V0.7H-1Z","symbolSize":100}}}},
{"width":149,"height":125.5,"transform":[{"filter":"datum.a=='Tyr'"}],"mark":{"type":"bar","stroke":"#808080","strokeWidth":0.7},"encoding":{"x":{"field":"b","type":"quantitative","scale":{"domain":[0,0.312],"nice":false},"axis":{"values":[0,0.05,0.1,0.15,0.2,0.25,0.3],"title":"composition","labelExpr":"datum.value==0?'0':format(datum.value,'.2f')"}},"x2":{"field":"e"},"y":{"field":"p","type":"quantitative","scale":{"domain":[0,0.3],"nice":false},"axis":{"values":[0,0.05,0.1,0.15,0.2,0.25,0.3],"title":null,"labelExpr":"datum.value==0?'0':format(datum.value,'.2f')"}},"y2":{"datum":0},"color":{"field":"a","type":"nominal","scale":{"range":["#808080"]},"legend":{"title":null,"symbolType":"M-1,-0.7H1V0.7H-1Z","symbolSize":100}}}}
],
"config":{
"font":"Liberation Sans",
"view":{"stroke":"#999","strokeWidth":1},
"axis":{"labelFontSize":5.7,"titleFontSize":5.7,"titleFontWeight":"normal","tickSize":2.5,"labelPadding":1.5,"titlePadding":1.5,"domainColor":"#999","tickColor":"#999","labelColor":"#333","titleColor":"#333","grid":false,"labelFlush":false,"labelOverlap":false},
"legend":{"offset":3,"padding":0,"labelFontSize":5.7,"labelColor":"#333","labelOffset":2,"symbolStrokeWidth":0}
}
}
